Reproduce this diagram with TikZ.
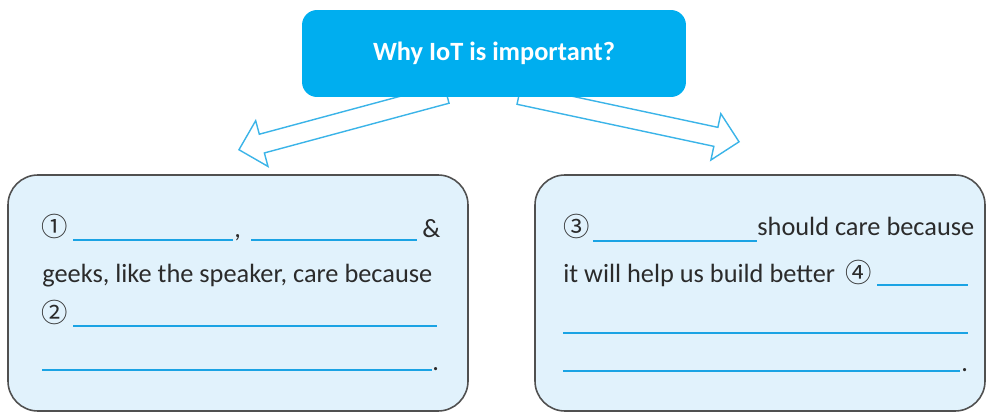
\documentclass[tikz,border=0pt]{standalone}
\usepackage{fontspec}
\setmainfont{Carlito}
\newfontfamily\circfont{Noto Sans CJK SC}
\usetikzlibrary{shapes.arrows}

\definecolor{iotcyan}{HTML}{00AEEF}
\definecolor{arrowcyan}{HTML}{3BB4E8}
\definecolor{blankcyan}{HTML}{1AA3E4}
\definecolor{boxfill}{HTML}{E1F2FC}
\definecolor{boxline}{HTML}{505050}
\definecolor{txtgray}{HTML}{2B2B2B}

\tikzset{
	titlebox/.style={fill=iotcyan, text=white, rounded corners=0.3cm, minimum width=7.68cm, minimum height=1.74cm, font=\fontsize{15}{18}\selectfont\bfseries},
	infobox/.style={draw=boxline, fill=boxfill, line width=0.9pt, rounded corners=0.6cm},
	hollowarrow/.style={single arrow, draw=arrowcyan, fill=white, line width=0.8pt, inner xsep=0pt, inner ysep=0.18cm, single arrow head extend=0.28cm, anchor=tip, sloped, allow upside down},
	txt/.style={inner sep=0pt, anchor=base west, text=txtgray, font=\fontsize{15}{18}\selectfont},
	blank/.style={draw=blankcyan, line width=1.1pt},
}

\begin{document}
\begin{tikzpicture}[x=0.02cm, y=-0.02cm]
		\useasboundingbox (0,0) rectangle (986,412);

		% arrows from the question to the two boxes
		\coordinate (tailL) at (446,94);
		\coordinate (tipL) at (238,150);
		\coordinate (tailR) at (520,95);
		\coordinate (tipR) at (740,142);
		\path (tailL) -- (tipL) node[hollowarrow, pos=1, minimum height=4.3cm] (arrL) {};
		\path (tailR) -- (tipR) node[hollowarrow, pos=1, minimum height=4.5cm] (arrR) {};

		\node[titlebox] (why) at (494,53.5) {Why IoT is important?};

		% left box
		\draw[infobox] (8,175) rectangle (468,411);
		\node[txt] (n1) at (41,236) {\circfont ①};
		\draw[blank] (73,240) -- (233,240);
		\node[txt] (comma) at (234,237) {,};
		\draw[blank] (251,240) -- (417,240);
		\node[txt] (amp) at (422,237) {\&};
		\node[txt] (geeks) at (42,282) {geeks, like the speaker, care because};
		\node[txt] (n2) at (41,322) {\circfont ②};
		\draw[blank] (73,326) -- (437,326);
		\draw[blank] (42,370) -- (432,370);
		\node[txt] (dotL) at (432,370) {.};

		% right box
		\draw[infobox] (535,175) rectangle (985,411);
		\node[txt] (n3) at (563,236) {\circfont ③};
		\draw[blank] (593,241) -- (757,241);
		\node[txt] (should) at (757,235) {should care because};
		\node[txt] (help) at (563,282) {it will help us build better};
		\node[txt] (n4) at (845,282) {\circfont ④};
		\draw[blank] (877,285) -- (968,285);
		\draw[blank] (563,333) -- (968,333);
		\draw[blank] (563,371) -- (960,371);
		\node[txt] (dotR) at (961,371) {.};
	\end{tikzpicture}
\end{document}
